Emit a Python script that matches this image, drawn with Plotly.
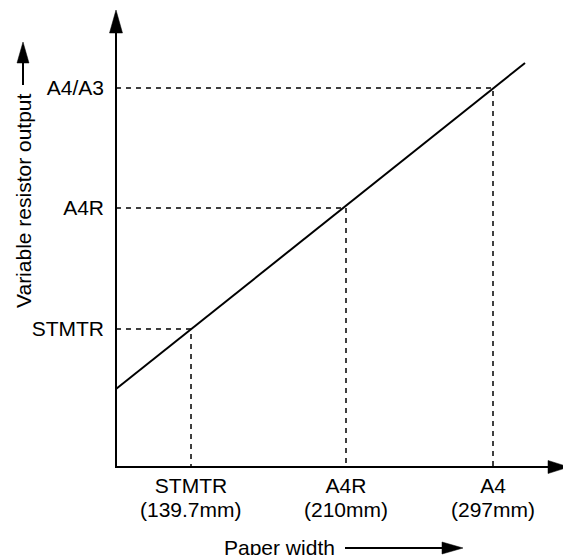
import plotly.graph_objects as go

# Schematic values (arbitrary units)
line_x = [0, 409]
line_y = [78, 404]

x_pos = [75, 230, 377]
x_names = ["STMTR", "A4R", "A4"]
x_sizes = ["(139.7mm)", "(210mm)", "(297mm)"]
y_pos = [138, 259, 379]
y_labels = ["STMTR", "A4R", "A4/A3"]

x_max = 445
y_max = 457

FONT = "Liberation Sans, Arial, sans-serif"
FS = 21

# plot-area geometry (pixels)
L, T, W, H = 116, 10, 445, 457
def px(xp):
    return (xp - L) / W
def py(yp):
    return (T + H - yp) / H

fig = go.Figure()

# dashed guide lines
for xv, yv in zip(x_pos, y_pos):
    fig.add_trace(go.Scatter(x=[0, xv, xv], y=[yv, yv, 0], mode="lines",
                             line=dict(color="black", width=1.5, dash="5px,5px"),
                             hoverinfo="skip", showlegend=False, cliponaxis=False))

fig.add_trace(go.Scatter(x=line_x, y=line_y, mode="lines",
                         line=dict(color="black", width=2),
                         hoverinfo="skip", showlegend=False, cliponaxis=False))

shapes = []
def seg(x0, y0, x1, y1, w=2):
    shapes.append(dict(type="line", xref="paper", yref="paper",
                       x0=px(x0), y0=py(y0), x1=px(x1), y1=py(y1),
                       line=dict(color="black", width=w)))
def head(xa, ya, direction, length, half):
    if direction == "up":
        path = f"M{-half},0 L{half},0 L0,{length} Z"
    else:
        path = f"M0,{-half} L0,{half} L{length},0 Z"
    shapes.append(dict(type="path", xref="paper", yref="paper",
                       xsizemode="pixel", ysizemode="pixel",
                       xanchor=px(xa), yanchor=py(ya), path=path,
                       fillcolor="black", line=dict(color="black", width=0.5)))

# axes
seg(116, 467, 116, 30)
head(116, 33, "up", 23, 6.5)
seg(115, 467, 550, 467)
head(548, 467, "right", 21, 6.5)

# title arrows
seg(23, 85, 23, 60)
head(23, 63, "up", 21, 6)
seg(345, 548, 445, 548)
head(442, 548, "right", 21, 6)

fig.add_annotation(xref="paper", yref="paper", x=px(23), y=py(201),
                   text="Variable resistor output", textangle=-90, showarrow=False,
                   font=dict(family=FONT, size=FS, color="black"), xanchor="center", yanchor="middle")
fig.add_annotation(xref="paper", yref="paper", x=px(279), y=py(547),
                   text="Paper width", showarrow=False,
                   font=dict(family=FONT, size=FS, color="black"), xanchor="center", yanchor="middle")

for xv, s in zip(x_pos, x_sizes):
    fig.add_annotation(xref="x", yref="paper", x=xv, y=py(510), text=s, showarrow=False,
                       font=dict(family=FONT, size=FS, color="black"),
                       xanchor="center", yanchor="middle")

fig.update_layout(
    width=563, height=555,
    margin=dict(l=L, r=563 - L - W, t=T, b=555 - T - H),
    plot_bgcolor="white", paper_bgcolor="white",
    font=dict(family=FONT, size=FS, color="black"),
    shapes=shapes,
    xaxis=dict(range=[0, x_max], tickmode="array", tickvals=x_pos, ticktext=x_names,
               showgrid=False, zeroline=False, showline=False, ticks="", ticklabelstandoff=4,
               automargin=False, fixedrange=True),
    yaxis=dict(range=[0, y_max], tickmode="array", tickvals=y_pos, ticktext=y_labels,
               showgrid=False, zeroline=False, showline=False, ticks="", ticklabelstandoff=11,
               automargin=False, fixedrange=True),
)

fig.write_html("out.html", config={"displayModeBar": False},
               post_script="document.body.style.margin='0';document.body.style.overflow='hidden';")
